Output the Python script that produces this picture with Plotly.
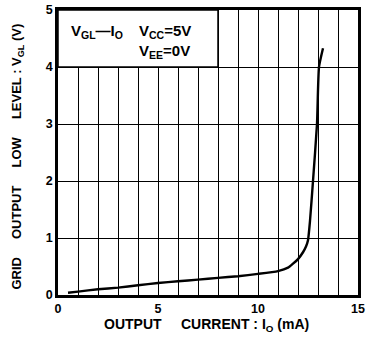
import plotly.graph_objects as go

# Data
io_ma = [0.5, 1, 2, 3, 4, 5, 6, 7, 8, 9, 10, 11, 11.5, 11.75, 12.0, 12.25, 12.4, 12.5, 12.6, 12.75, 12.95, 13.05, 13.25]
vgl_v = [0.04, 0.06, 0.10, 0.13, 0.17, 0.21, 0.24, 0.27, 0.30, 0.33, 0.37, 0.42, 0.48, 0.55, 0.63, 0.75, 0.85, 0.96, 1.3, 2.0, 3.0, 4.0, 4.33]

x_ticks = list(range(0, 16))
x_ticktext = [str(v) if v % 5 == 0 else "" for v in x_ticks]
y_ticks = [0, 1, 2, 3, 4, 5]

FONT = "Liberation Sans, Arial, sans-serif"
NB = "\u00a0"

fig = go.Figure()
fig.add_trace(go.Scatter(x=io_ma, y=vgl_v, mode="lines",
                         line=dict(color="black", width=2.4, shape="spline", smoothing=0.5),
                         showlegend=False, hoverinfo="skip"))

fig.add_shape(type="rect", x0=0, x1=8, y0=4, y1=5, xref="x", yref="y",
              fillcolor="white", line=dict(color="black", width=1.5), layer="above")

tfont = dict(family=FONT, size=15, color="black", weight="bold")
fig.add_annotation(x=0.55, y=4.62, xref="x", yref="y", xanchor="left", showarrow=False,
                   text="V<sub>GL</sub>\u2014I<sub>O</sub>", font=tfont)
fig.add_annotation(x=3.95, y=4.62, xref="x", yref="y", xanchor="left", showarrow=False,
                   text="V<sub>CC</sub>=5V", font=tfont)
fig.add_annotation(x=3.95, y=4.27, xref="x", yref="y", xanchor="left", showarrow=False,
                   text="V<sub>EE</sub>=0V", font=tfont)

# axis titles as annotations
fig.add_annotation(x=0.495, y=-0.105, xref="paper", yref="paper", xanchor="center", yanchor="middle",
                   showarrow=False, text=f"OUTPUT{NB*5}CURRENT : I<sub>O</sub> (mA)",
                   font=dict(family=FONT, size=14, color="black", weight="bold"))
fig.add_annotation(x=-0.135, y=0.484, xref="paper", yref="paper", xanchor="center", yanchor="middle",
                   showarrow=False, textangle=-90,
                   text=f"GRID{NB*5}OUTPUT{NB*5}LOW{NB*5}LEVEL : V<sub>GL</sub> (V)",
                   font=dict(family=FONT, size=13, color="black", weight="bold"))

fig.update_xaxes(range=[0, 15], tickvals=x_ticks, ticktext=x_ticktext,
                 showgrid=True, gridcolor="black", gridwidth=1,
                 showline=True, linecolor="black", linewidth=2.5, mirror=True,
                 zeroline=False, ticks="", ticklen=0, automargin=False,
                 tickfont=dict(family=FONT, size=12.5, color="black", weight="bold"))
fig.update_yaxes(range=[0, 5], tickvals=y_ticks,
                 showgrid=True, gridcolor="black", gridwidth=1,
                 showline=True, linecolor="black", linewidth=2.5, mirror=True,
                 zeroline=False, ticks="", ticklen=0, automargin=False,
                 tickfont=dict(family=FONT, size=12.5, color="black", weight="bold"))

fig.update_layout(width=366, height=343, margin=dict(l=58, r=8, t=10, b=48),
                  paper_bgcolor="white", plot_bgcolor="white")

fig.write_html("out.html", config={"displayModeBar": False},
               post_script="document.body.style.margin='0';document.body.style.overflow='hidden';")
